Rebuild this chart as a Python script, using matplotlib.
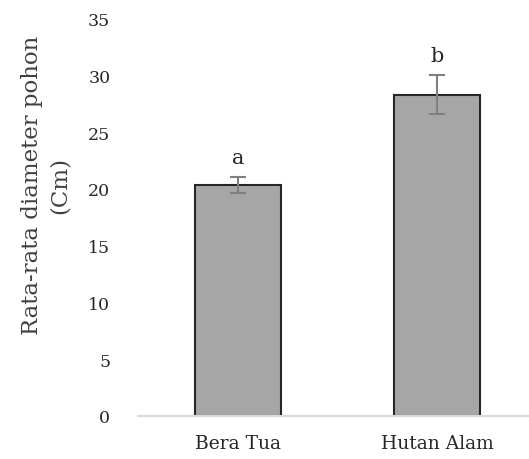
import matplotlib
matplotlib.use("Agg")
import matplotlib.pyplot as plt

categories = ["Bera Tua", "Hutan Alam"]
means = [20.3, 28.3]
errors = [0.7, 1.75]
letters = ["a", "b"]
yticks = [0, 5, 10, 15, 20, 25, 30, 35]

plt.rcParams['font.family'] = ['DejaVu Serif']

fig = plt.figure(figsize=(5.29, 4.60), dpi=100)
ax = fig.add_axes([0.261, 0.094, 0.739, 0.8635])

x = list(range(len(categories)))
ax.bar(x, means, width=0.43, color="#a6a6a6", edgecolor="#262626", linewidth=1.5, zorder=2)
ax.errorbar(x, means, yerr=errors, fmt="none", ecolor="#7f7f7f", elinewidth=1.5,
            capsize=5.5, capthick=1.5, zorder=3)
for xi, m, e, l in zip(x, means, errors, letters):
    ax.text(xi, m + e + 0.9, l, ha="center", va="bottom", fontsize=15, color="#262626")

ax.set_xlim(-0.5, 1.46)
ax.set_ylim(0, 35)
ax.set_yticks(yticks)
ax.set_xticks(x)
ax.set_xticklabels(categories, fontsize=13.5, color="#262626")
ax.set_yticklabels([str(t) for t in yticks], fontsize=12.5, color="#262626")
ax.tick_params(axis="y", length=0, pad=20)
ax.tick_params(axis="x", length=0, pad=13)
for s in ["top", "right", "left"]:
    ax.spines[s].set_visible(False)
ax.spines["bottom"].set_color("#d9d9d9")
ax.spines["bottom"].set_linewidth(1.5)

fig.text(0.087, 0.596, "Rata-rata diameter pohon\n(Cm)", rotation=90, ha="center", va="center",
         fontsize=16.5, color="#404040", linespacing=1.3, multialignment="center")

fig.savefig("out.png", dpi=100)
